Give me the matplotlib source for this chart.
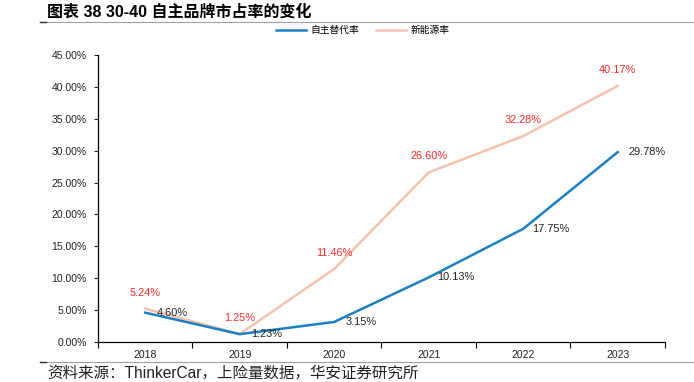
import matplotlib
matplotlib.use("Agg")
import matplotlib.pyplot as plt
from matplotlib.lines import Line2D
from matplotlib.ticker import FuncFormatter, FixedLocator
import numpy as np

plt.rcParams['font.family'] = ['Liberation Sans', 'Noto Sans CJK SC', 'DejaVu Sans']

# data
years = ['2018', '2019', '2020', '2021', '2022', '2023']
zizhu = [4.60, 1.23, 3.15, 10.13, 17.75, 29.78]      # 自主替代率 (%)
xinnengyuan = [5.24, 1.25, 11.46, 26.60, 32.28, 40.17]  # 新能源率 (%)
yticks = np.arange(0, 46, 5)

blue = '#1B80C3'
peach = '#F5C2B0'
red = '#FF2A2A'

fig = plt.figure(figsize=(6.94, 3.82), dpi=100)
ax = fig.add_axes([0.1412, 0.1047, 0.8170, 0.7513])

x = np.arange(len(years))
l1, = ax.plot(x, zizhu, color=blue, lw=1.8, label='自主替代率', zorder=3)
l2, = ax.plot(x, xinnengyuan, color=peach, lw=1.8, label='新能源率', zorder=2)

# data labels
for xi, v in zip(x, xinnengyuan):
    ax.annotate(f'{v:.2f}%', (xi, v), xytext=(0, 11.5), textcoords='offset points',
                ha='center', va='center', fontsize=7.9, color=red)
for xi, v in zip(x, zizhu):
    dx = 21 if xi == len(x) - 1 else 19.5
    ax.annotate(f'{v:.2f}%', (xi, v), xytext=(dx, 0), textcoords='offset points',
                ha='center', va='center', fontsize=7.9, color='#222222')

ax.set_xlim(-0.5, len(years) - 0.5)
ax.set_ylim(0, 45)
ax.yaxis.set_major_locator(FixedLocator(yticks))
ax.yaxis.set_major_formatter(FuncFormatter(lambda v, p: f'{v:.2f}%'))
ax.set_xticks(x)
ax.set_xticklabels(years)
ax.xaxis.set_minor_locator(FixedLocator(np.arange(-0.5, len(years), 1.0)))
ax.tick_params(axis='x', which='major', length=0, labelsize=7.5, pad=6, colors='#222222')
ax.tick_params(axis='x', which='minor', length=4, direction='out', width=0.8)
ax.tick_params(axis='y', which='major', length=3, direction='out', labelsize=7.5, pad=5,
               colors='#222222', width=0.8)
for s in ['top', 'right']:
    ax.spines[s].set_visible(False)
ax.spines['left'].set_linewidth(0.9)
ax.spines['bottom'].set_linewidth(0.9)

leg = fig.legend(handles=[l1, l2], loc='center', bbox_to_anchor=(0.523, 0.921), ncol=2,
                 frameon=False, handlelength=3.1, columnspacing=1.7,
                 handletextpad=0.5, prop={'family': ['Noto Sans CJK SC'], 'size': 7})

# title and source
fig.text(0.068, 0.968, '图表 38 30-40 自主品牌市占率的变化', fontsize=11.5, fontweight='bold',
         ha='left', va='center', family=['Liberation Sans', 'Noto Sans CJK SC'])
fig.add_artist(Line2D([0.058, 1.0], [0.942, 0.942], color='#A0A0A0', lw=0.8))
fig.add_artist(Line2D([0.058, 0.066], [0.942, 0.942], color='#333333', lw=1.0))
fig.add_artist(Line2D([0.058, 1.0], [0.052, 0.052], color='#A0A0A0', lw=0.8))
fig.add_artist(Line2D([0.058, 0.066], [0.052, 0.052], color='#333333', lw=1.0))
fig.text(0.068, 0.023, '资料来源：ThinkerCar，上险量数据，华安证券研究所', fontsize=11.2,
         ha='left', va='center', color='#222222', family=['Liberation Sans', 'Noto Sans CJK SC'])

fig.savefig('out.png', dpi=100)
